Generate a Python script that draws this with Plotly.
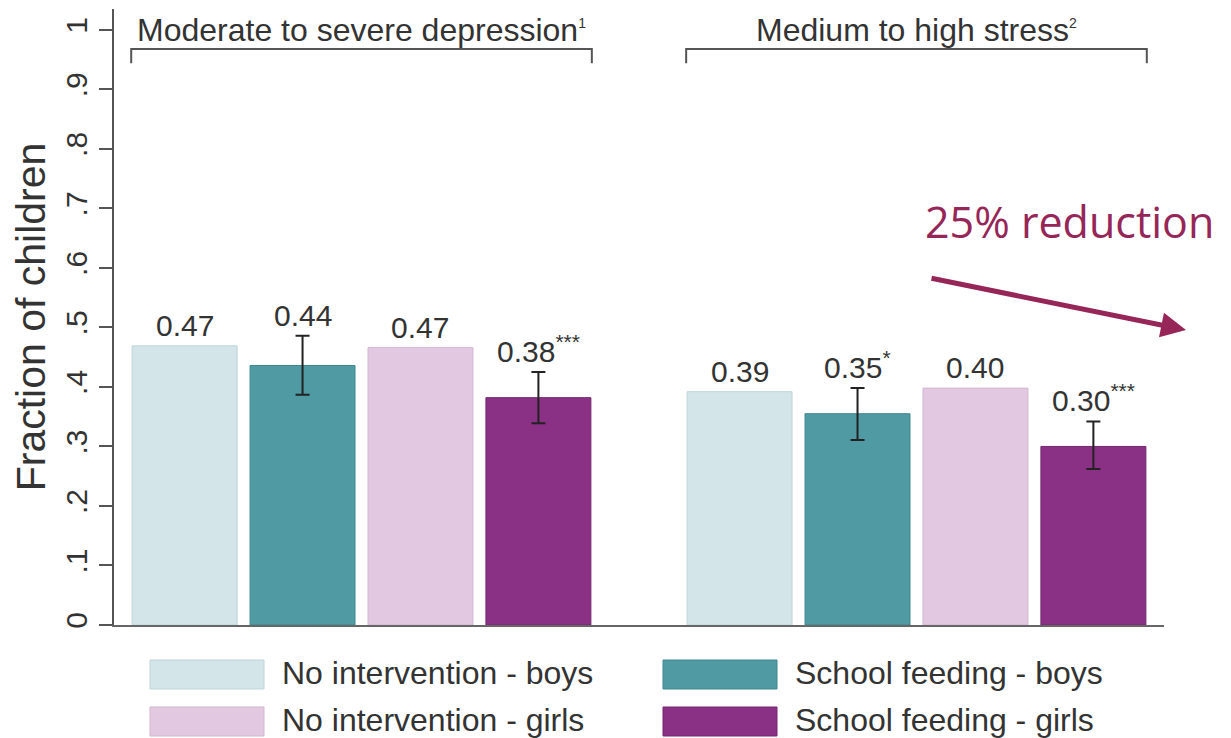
import plotly.graph_objects as go

# ---------------- data ----------------
categories = ["Moderate to severe depression", "Medium to high stress"]
header_sup = ["1", "2"]
series_names = ["No intervention - boys", "School feeding - boys",
                "No intervention - girls", "School feeding - girls"]
values = [
    [0.469, 0.392],   # No intervention - boys
    [0.436, 0.355],   # School feeding - boys
    [0.466, 0.398],   # No intervention - girls
    [0.382, 0.300],   # School feeding - girls
]
err_hi = [
    None,
    [0.486, 0.398],
    None,
    [0.425, 0.342],
]
err_lo = [
    None,
    [0.387, 0.311],
    None,
    [0.339, 0.262],
]
labels = [
    ["0.47", "0.39"],
    ["0.44", "0.35<sup>*</sup>"],
    ["0.47", "0.40"],
    ["0.38<sup>***</sup>", "0.30<sup>***</sup>"],
]
tick_vals = [0, 0.1, 0.2, 0.3, 0.4, 0.5, 0.6, 0.7, 0.8, 0.9, 1.0]
tick_text = ["0", ".1", ".2", ".3", ".4", ".5", ".6", ".7", ".8", ".9", "1"]

colors = ["#d3e5e8", "#4f9aa3", "#e2c9e1", "#8a3186"]
line_colors = ["#bdd5d9", "#3f8790", "#d2b5d1", "#74276f"]

BARGAP = 0.15
GROUPGAP = 0.11
TEXT = "#333333"
ACCENT = "#962658"
FONT = "Liberation Sans, Arial, sans-serif"

# page body has an 8px margin: figure is placed at (8, 8) in the window
OFF = 8
W, H = 1231 - OFF, 738 - OFF
# plot area in window pixels: x 114..1164, y 9..625
L, R, T, B = 114 - OFF, 1231 - 1164, 9 - OFF, 738 - 625
pw, ph = W - L - R, H - T - B


def px_to_paper(px, py):
    """window pixel -> paper coords"""
    return (px - OFF - L) / pw, (H - B - (py - OFF)) / ph


fig = go.Figure()
for i, name in enumerate(series_names):
    ey = None
    if err_hi[i] is not None:
        ey = dict(type="data", symmetric=False,
                  array=[h - v for h, v in zip(err_hi[i], values[i])],
                  arrayminus=[v - l for l, v in zip(err_lo[i], values[i])],
                  color="#222222", thickness=2, width=7)
    fig.add_trace(go.Bar(
        x=categories, y=values[i], name=name,
        marker=dict(color=colors[i], line=dict(color=line_colors[i], width=1)),
        error_y=ey, showlegend=False,
    ))

# value labels above bars / error bars
slot = (1 - BARGAP) / len(series_names)
for i in range(len(series_names)):
    for g in range(len(categories)):
        top = values[i][g]
        if err_hi[i] is not None:
            top = max(top, err_hi[i][g])
        fig.add_annotation(
            x=g + (i - (len(series_names) - 1) / 2) * slot, y=top,
            xref="x", yref="y", text=labels[i][g], showarrow=False,
            yanchor="bottom", yshift=2,
            font=dict(family=FONT, size=30, color=TEXT))

# group headers with brackets
half = 0.415
for g, cat in enumerate(categories):
    fig.add_annotation(
        x=g, y=0.966, xref="x", yref="y",
        text=f"{cat}<sup><span style='font-size:14px'>{header_sup[g]}</span></sup>",
        showarrow=False,
        yanchor="bottom", font=dict(family=FONT, size=32, color=TEXT))
    fig.add_shape(
        type="path", xref="x", yref="y",
        path=f"M {g-half},0.944 L {g-half},0.968 L {g+half},0.968 L {g+half},0.944",
        line=dict(color="#555555", width=2))

# "25% reduction" callout
tx, ty = px_to_paper(1069, 222)
fig.add_annotation(
    x=tx, y=ty, xref="paper", yref="paper",
    text="25% reduction", showarrow=False, xanchor="center", yanchor="middle",
    font=dict(family="Open Sans, sans-serif", size=43, color=ACCENT))
ax_, ay_ = px_to_paper(1186, 330)
fig.add_annotation(
    x=ax_, y=ay_, xref="paper", yref="paper", text="",
    showarrow=True, ax=-256, ay=-52, axref="pixel", ayref="pixel",
    arrowhead=2, arrowsize=1.0, arrowwidth=5, arrowcolor=ACCENT)

# manual legend
legend_pos = [(0, 0), (1, 0), (0, 1), (1, 1)]  # (col,row) for series order
col_x = [150, 663]
row_y = [660, 707]
for i, name in enumerate(series_names):
    c, r = legend_pos[i]
    x0, y0 = px_to_paper(col_x[c], row_y[r])
    x1, y1 = px_to_paper(col_x[c] + 114, row_y[r] + 29)
    fig.add_shape(type="rect", xref="paper", yref="paper",
                  x0=x0, x1=x1, y0=y1, y1=y0,
                  fillcolor=colors[i], line=dict(color=line_colors[i], width=1))
    lx, ly = px_to_paper(col_x[c] + 130, row_y[r] + 13)
    fig.add_annotation(x=lx, y=ly, xref="paper", yref="paper", text=name,
                       showarrow=False, xanchor="left", yanchor="middle",
                       font=dict(family=FONT, size=32, color=TEXT))

fig.update_layout(
    width=W, height=H,
    margin=dict(l=L, r=R, t=T, b=B),
    paper_bgcolor="white", plot_bgcolor="white",
    barmode="group", bargap=BARGAP, bargroupgap=GROUPGAP,
    font=dict(family=FONT, color=TEXT),
    showlegend=False,
)
fig.update_xaxes(range=[-0.446, 1.446], showline=True, linecolor="#666666",
                 linewidth=2, showticklabels=False, ticks="", showgrid=False,
                 zeroline=False)
fig.update_yaxes(range=[0, 1.035], tickvals=tick_vals, ticktext=tick_text,
                 tickangle=-90, ticks="outside", ticklen=13, tickwidth=2,
                 tickcolor="#555555", showline=True, linecolor="#555555",
                 linewidth=2, showgrid=False, zeroline=False,
                 tickfont=dict(family=FONT, size=30, color=TEXT),
                 title=dict(text="Fraction of children", standoff=2,
                            font=dict(family=FONT, size=41, color=TEXT)))

fig.write_html("out.html")
